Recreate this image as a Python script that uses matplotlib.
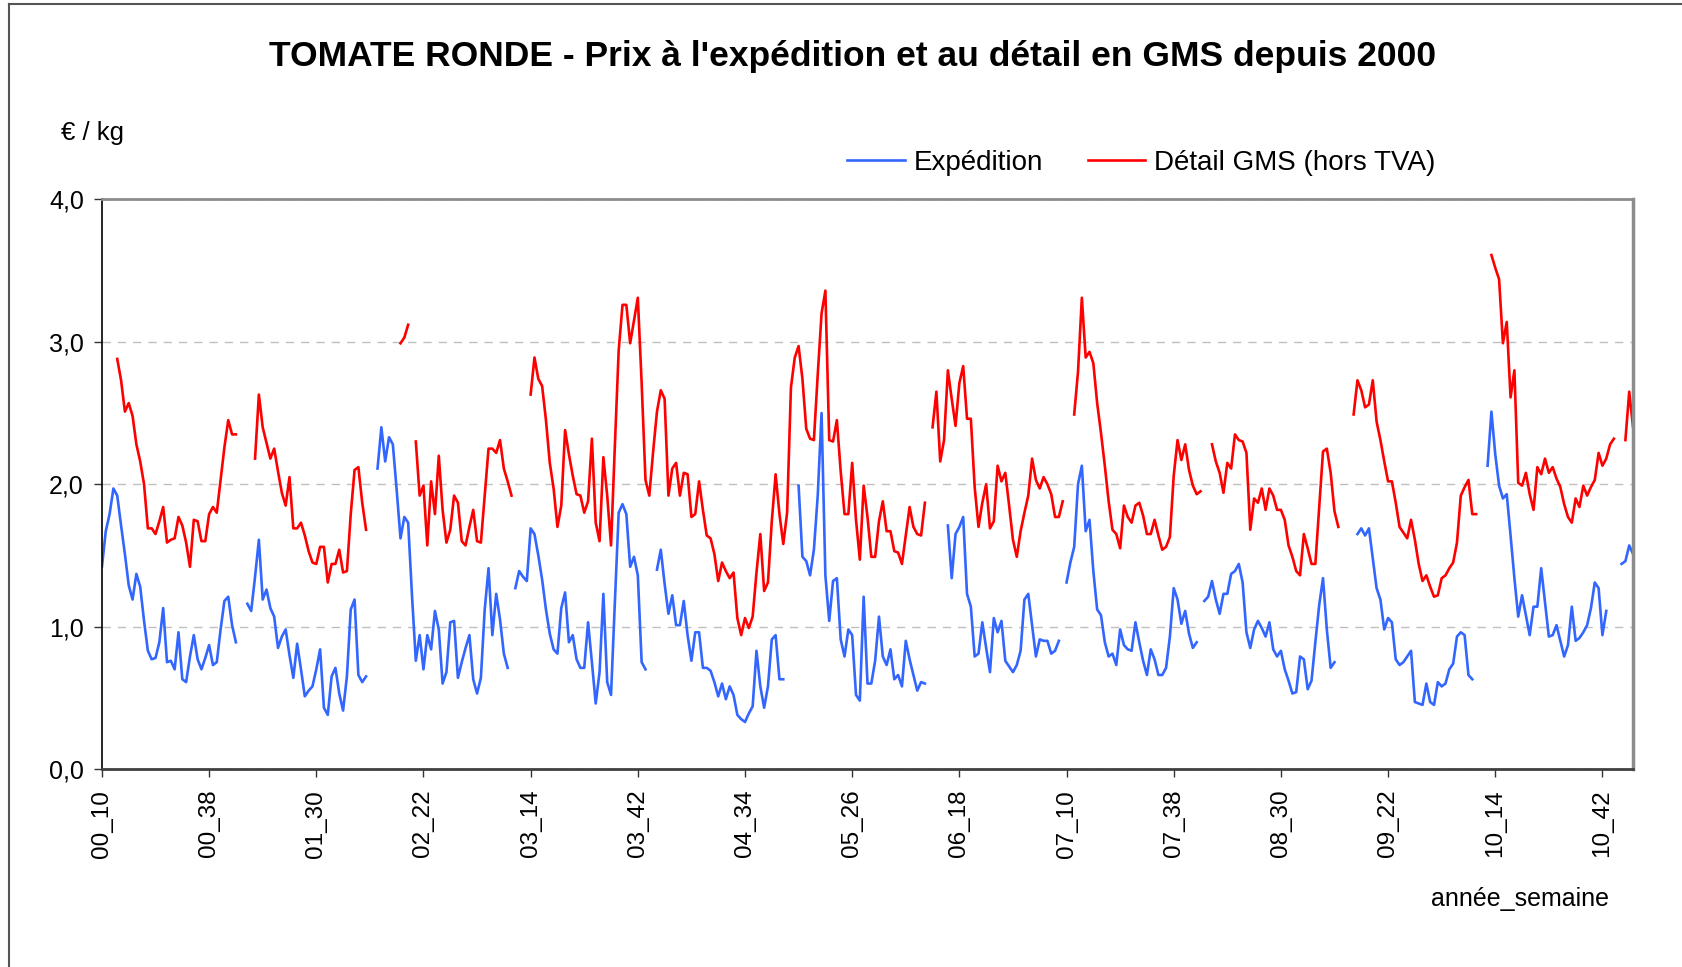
import numpy as np
import matplotlib
matplotlib.use("Agg")
import matplotlib.pyplot as plt
from matplotlib.lines import Line2D

plt.rcParams['font.family'] = ['Liberation Sans', 'DejaVu Sans']

# weekly categories (only the season weeks), one label every 28 categories
N_WEEKS = 401
tick_step = 28
tick_labels = ['00_10', '00_38', '01_30', '02_22', '03_14', '03_42', '04_34',
               '05_26', '06_18', '07_10', '07_38', '08_30', '09_22', '10_14', '10_42']
y_ticks = [0, 1, 2, 3, 4]

# Expédition (€/kg), one list per continuous stretch
exp_00 = [1.42, 1.67, 1.79, 1.97, 1.92, 1.71, 1.51, 1.29, 1.19, 1.37, 1.28, 1.04,
          0.83, 0.77, 0.78, 0.89, 1.13, 0.75, 0.76, 0.70, 0.96, 0.63, 0.61, 0.79,
          0.94, 0.77, 0.70, 0.78, 0.87, 0.73, 0.75, 0.98, 1.18, 1.21, 1.01, 0.89]
exp_01 = [1.16, 1.11, 1.35, 1.61, 1.19, 1.26, 1.13, 1.07, 0.85, 0.93, 0.98, 0.80,
          0.64, 0.88, 0.70, 0.51, 0.55, 0.58, 0.70, 0.84, 0.43, 0.38, 0.65, 0.71,
          0.53, 0.41, 0.65, 1.12, 1.19, 0.66, 0.61, 0.65]
exp_02 = [2.11, 2.40, 2.16, 2.33, 2.28, 1.96, 1.62, 1.77, 1.73, 1.22, 0.76, 0.94,
          0.70, 0.94, 0.84, 1.11, 0.98, 0.60, 0.68, 1.03, 1.04, 0.64, 0.75, 0.85,
          0.94, 0.63, 0.53, 0.64, 1.12, 1.41, 0.94, 1.23, 1.05, 0.81, 0.71]
exp_03 = [1.27, 1.39, 1.35, 1.32, 1.69, 1.65, 1.50, 1.33, 1.12, 0.95, 0.84, 0.81,
          1.13, 1.24, 0.89, 0.94, 0.77, 0.71, 0.71, 1.03, 0.75, 0.46, 0.68, 1.23,
          0.61, 0.52, 1.17, 1.80, 1.86, 1.79, 1.42, 1.49, 1.36, 0.75, 0.70]
exp_04 = [1.40, 1.54, 1.30, 1.09, 1.22, 1.01, 1.01, 1.18, 0.94, 0.76, 0.96, 0.96,
          0.71, 0.71, 0.69, 0.61, 0.51, 0.60, 0.49, 0.58, 0.52, 0.38, 0.35, 0.33,
          0.39, 0.44, 0.83, 0.58, 0.43, 0.58, 0.91, 0.94, 0.63, 0.63]
exp_05 = [1.99, 1.49, 1.46, 1.36, 1.54, 1.92, 2.50, 1.36, 1.04, 1.32, 1.34, 0.91,
          0.79, 0.98, 0.94, 0.52, 0.48, 1.21, 0.60, 0.60, 0.76, 1.07, 0.79, 0.73,
          0.84, 0.63, 0.66, 0.58, 0.90, 0.77, 0.66, 0.55, 0.61, 0.60]
exp_06 = [1.71, 1.34, 1.65, 1.70, 1.77, 1.23, 1.14, 0.79, 0.81, 1.03, 0.85, 0.68,
          1.06, 0.96, 1.04, 0.76, 0.72, 0.68, 0.73, 0.83, 1.19, 1.23, 1.01, 0.79,
          0.91, 0.90, 0.90, 0.81, 0.83, 0.90]
exp_07 = [1.31, 1.45, 1.56, 2.00, 2.13, 1.67, 1.75, 1.39, 1.12, 1.08, 0.89, 0.79,
          0.81, 0.73, 0.98, 0.87, 0.84, 0.83, 1.03, 0.89, 0.76, 0.66, 0.84, 0.77,
          0.66, 0.66, 0.71, 0.93, 1.27, 1.19, 1.02, 1.11, 0.95, 0.85, 0.89]
exp_08 = [1.18, 1.21, 1.32, 1.19, 1.09, 1.23, 1.23, 1.37, 1.39, 1.44, 1.31, 0.96,
          0.85, 0.98, 1.04, 0.99, 0.93, 1.03, 0.84, 0.79, 0.83, 0.70, 0.62, 0.53,
          0.54, 0.79, 0.77, 0.56, 0.62, 0.89, 1.15, 1.34, 0.98, 0.71, 0.75]
exp_09 = [1.65, 1.69, 1.64, 1.69, 1.48, 1.27, 1.19, 0.98, 1.06, 1.03, 0.77, 0.73,
          0.75, 0.79, 0.83, 0.47, 0.46, 0.45, 0.60, 0.47, 0.45, 0.61, 0.58, 0.60,
          0.70, 0.74, 0.93, 0.96, 0.94, 0.66, 0.63]
exp_10a = [2.13, 2.51, 2.21, 1.99, 1.90, 1.93, 1.64, 1.34, 1.07, 1.22, 1.08, 0.94,
           1.14, 1.14, 1.41, 1.17, 0.93, 0.94, 1.01, 0.90, 0.79, 0.87, 1.14, 0.90,
           0.92, 0.96, 1.01, 1.13, 1.31, 1.27, 0.94, 1.11]
exp_10b = [1.44, 1.46, 1.57, 1.51]

# Détail GMS hors TVA (€/kg)
gms_00 = [2.88, 2.73, 2.51, 2.57, 2.48, 2.28, 2.16, 2.00, 1.69, 1.69, 1.65, 1.74,
          1.84, 1.59, 1.61, 1.62, 1.77, 1.71, 1.59, 1.42, 1.75, 1.74, 1.60, 1.60,
          1.79, 1.84, 1.80, 2.03, 2.26, 2.45, 2.35, 2.35]
gms_01 = [2.18, 2.63, 2.40, 2.29, 2.18, 2.25, 2.09, 1.94, 1.85, 2.05, 1.69, 1.69,
          1.73, 1.64, 1.53, 1.45, 1.44, 1.56, 1.56, 1.31, 1.44, 1.44, 1.54, 1.38,
          1.39, 1.79, 2.10, 2.12, 1.87, 1.68]
gms_02a = [2.99, 3.03, 3.12]
gms_02 = [2.30, 1.92, 1.99, 1.57, 2.02, 1.79, 2.20, 1.82, 1.59, 1.68, 1.92, 1.87,
          1.60, 1.57, 1.70, 1.82, 1.60, 1.59, 1.92, 2.25, 2.25, 2.22, 2.31, 2.11,
          2.02, 1.92]
gms_03_05 = [2.63, 2.89, 2.74, 2.69, 2.45, 2.15, 1.97, 1.70, 1.85, 2.38,
             2.21, 2.06, 1.93, 1.92, 1.80, 1.88, 2.32, 1.73, 1.60, 2.19,
             1.92, 1.57, 2.27, 2.94, 3.26, 3.26, 2.99, 3.15, 3.31, 2.71,
             2.03, 1.92, 2.23, 2.51, 2.66, 2.60, 1.92, 2.11, 2.15, 1.92,
             2.08, 2.07, 1.77, 1.79, 2.02, 1.82, 1.64, 1.62, 1.51, 1.32,
             1.45, 1.39, 1.34, 1.38, 1.06, 0.94, 1.06, 0.99, 1.07, 1.38,
             1.65, 1.25, 1.31, 1.74, 2.07, 1.79, 1.58, 1.80, 2.68, 2.89,
             2.97, 2.74, 2.39, 2.32, 2.31, 2.77, 3.20, 3.36, 2.31, 2.30,
             2.45, 2.09, 1.79, 1.79, 2.15, 1.75, 1.47, 1.99, 1.77, 1.49,
             1.49, 1.74, 1.88, 1.67, 1.67, 1.53, 1.52, 1.44, 1.64, 1.84,
             1.70, 1.65, 1.64, 1.87]
gms_06 = [2.40, 2.65, 2.16, 2.31, 2.80, 2.60, 2.41, 2.71, 2.83, 2.46, 2.46, 1.98,
          1.70, 1.87, 2.00, 1.69, 1.74, 2.13, 2.02, 2.08, 1.85, 1.61, 1.49, 1.67,
          1.80, 1.92, 2.18, 2.03, 1.97, 2.05, 2.00, 1.93, 1.77, 1.77, 1.88]
gms_07 = [2.49, 2.79, 3.31, 2.89, 2.93, 2.85, 2.57, 2.36, 2.13, 1.88, 1.68, 1.65,
          1.55, 1.85, 1.77, 1.73, 1.85, 1.87, 1.78, 1.65, 1.65, 1.75, 1.64, 1.54,
          1.56, 1.63, 2.06, 2.31, 2.17, 2.28, 2.10, 1.99, 1.93, 1.95]
gms_08 = [2.28, 2.16, 2.08, 1.94, 2.15, 2.11, 2.35, 2.31, 2.30, 2.22, 1.68, 1.90,
          1.87, 1.97, 1.82, 1.97, 1.92, 1.82, 1.82, 1.75, 1.57, 1.49, 1.39, 1.36,
          1.65, 1.55, 1.44, 1.44, 1.84, 2.23, 2.25, 2.08, 1.81, 1.70]
gms_09 = [2.49, 2.73, 2.66, 2.54, 2.56, 2.73, 2.44, 2.31, 2.16, 2.02, 2.02, 1.87,
          1.70, 1.66, 1.62, 1.75, 1.61, 1.44, 1.32, 1.36, 1.28, 1.21, 1.22, 1.34,
          1.36, 1.41, 1.45, 1.59, 1.92, 1.98, 2.03, 1.79, 1.79]
gms_10a = [3.61, 3.52, 3.44, 2.99, 3.14, 2.61, 2.80, 2.01, 1.99, 2.08, 1.93, 1.82,
           2.12, 2.07, 2.18, 2.08, 2.12, 2.04, 1.98, 1.86, 1.77, 1.73, 1.90, 1.84,
           1.99, 1.92, 1.98, 2.03, 2.22, 2.13, 2.18, 2.28, 2.32]
gms_10b = [2.31, 2.65, 2.40]

# first category index of each stretch (blank weeks in between)
exp_segments = [(0, exp_00), (38, exp_01), (72, exp_02), (108, exp_03),
                (145, exp_04), (182, exp_05), (221, exp_06), (252, exp_07),
                (288, exp_08), (328, exp_09), (362, exp_10a), (397, exp_10b)]
gms_segments = [(4, gms_00), (40, gms_01), (78, gms_02a), (82, gms_02),
                (112, gms_03_05), (217, gms_06), (254, gms_07), (290, gms_08),
                (327, gms_09), (363, gms_10a), (398, gms_10b)]


def build_series(segments):
    s = np.full(N_WEEKS, np.nan)
    for start, vals in segments:
        s[start:start + len(vals)] = vals
    return s


expedition = build_series(exp_segments)
detail = build_series(gms_segments)
weeks = np.arange(N_WEEKS)

fig = plt.figure(figsize=(16.82, 9.67), dpi=100)
ax = fig.add_axes([0.0606, 0.2048, 0.9103, 0.5889])

ax.plot(weeks, expedition, color='#3366ff', lw=1.9, label='Expédition')
ax.plot(weeks, detail, color='#ff0000', lw=1.9, label='Détail GMS (hors TVA)')

ax.set_xlim(0, N_WEEKS - 1)
ax.set_ylim(0, 4)

ax.set_xticks(np.arange(len(tick_labels)) * tick_step)
ax.set_xticklabels(tick_labels, rotation=90, fontsize=17.5)
ax.set_yticks(y_ticks)
ax.set_yticklabels([('%.1f' % v).replace('.', ',') for v in y_ticks], fontsize=18)
ax.tick_params(axis='x', direction='out', length=6, width=1, pad=9, color='#333333')
ax.tick_params(axis='y', direction='out', length=6, width=1, pad=7, color='#333333')

ax.grid(axis='y', color='#c0c0c0', lw=1, linestyle=(0, (6, 5)))
ax.set_axisbelow(True)

ax.spines['left'].set_color('#000000')
ax.spines['left'].set_linewidth(1.2)
ax.spines['bottom'].set_color('#404040')
ax.spines['bottom'].set_linewidth(2)
ax.spines['top'].set_color('#8c8c8c')
ax.spines['top'].set_linewidth(2)
ax.spines['right'].set_color('#8c8c8c')
ax.spines['right'].set_linewidth(2.5)

fig.text(0.507, 0.942, "TOMATE RONDE - Prix à l'expédition et au détail en GMS depuis 2000",
         ha='center', va='center', fontsize=25.5, fontweight='bold')
fig.text(0.0363, 0.862, '€ / kg', ha='left', va='center', fontsize=18.5)
fig.text(0.9566, 0.0703, 'année_semaine', ha='right', va='center', fontsize=18)

fig.legend(loc='center left', bbox_to_anchor=(0.5036, 0.8314), ncol=2, frameon=False,
           fontsize=20, handlelength=2.07, handletextpad=0.33, columnspacing=1.6,
           borderpad=0, borderaxespad=0)

# outer chart border (left and top edges are visible in the original)
fig.add_artist(Line2D([0.0053, 0.0053], [0.0, 0.9955], transform=fig.transFigure,
                      color='#555555', lw=1.5))
fig.add_artist(Line2D([0.0053, 1.0], [0.9955, 0.9955], transform=fig.transFigure,
                      color='#555555', lw=1.5))

fig.savefig('out.png', dpi=100)
